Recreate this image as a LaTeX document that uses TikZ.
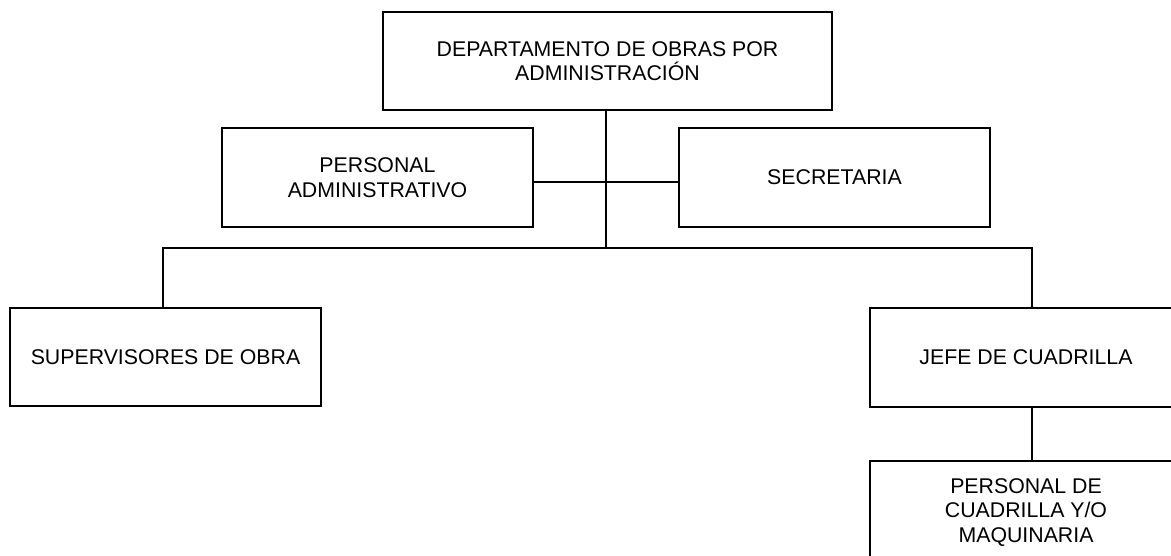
\documentclass[tikz,border=0pt]{standalone}
\usepackage{fontspec}
\setmainfont{Liberation Sans}
\begin{document}
\begin{tikzpicture}[x=1pt,y=1pt,
  orgbox/.style={draw=black, line width=1.8pt, fill=white, align=center, inner sep=0pt,
    font=\fontsize{21.3}{24.5}\selectfont},
  link/.style={draw=black, line width=1.8pt}]
\useasboundingbox (0,0) rectangle (1171,-556);
\clip (0,0) rectangle (1171,-556);
\node[orgbox, line width=2.6pt, minimum width=449pt, minimum height=98pt] (top) at (607.5,-61) {DEPARTAMENTO DE OBRAS POR\\ADMINISTRACIÓN};
\node[orgbox, minimum width=311pt, minimum height=99pt] (padm) at (377.5,-177.5) {PERSONAL\\ADMINISTRATIVO};
\node[orgbox, minimum width=311pt, minimum height=99pt] (secr) at (834.5,-177.5) {SECRETARIA};
\node[orgbox, minimum width=311pt, minimum height=98pt] (sup) at (165.5,-357) {SUPERVISORES DE OBRA};
\node[orgbox, minimum width=312pt, minimum height=99pt] (jefe) at (1026,-357.5) {JEFE DE CUADRILLA};
\node[orgbox, minimum width=312pt, minimum height=103pt] (pcua) at (1026,-512.5) {PERSONAL DE\\CUADRILLA Y/O\\MAQUINARIA};
\coordinate (bus) at (606,-248);
\path[link] (top.south -| bus) -- (bus);
\path[link] ([yshift=-4.5pt]padm.east) -- ([yshift=-4.5pt]secr.west);
\path[link] ([xshift=-2.5pt]sup.north) |- (bus);
\path[link] (bus) -| ([xshift=6pt]jefe.north);
\path[link] ([xshift=6pt]jefe.south) -- ([xshift=6pt]pcua.north);
\end{tikzpicture}
\end{document}
